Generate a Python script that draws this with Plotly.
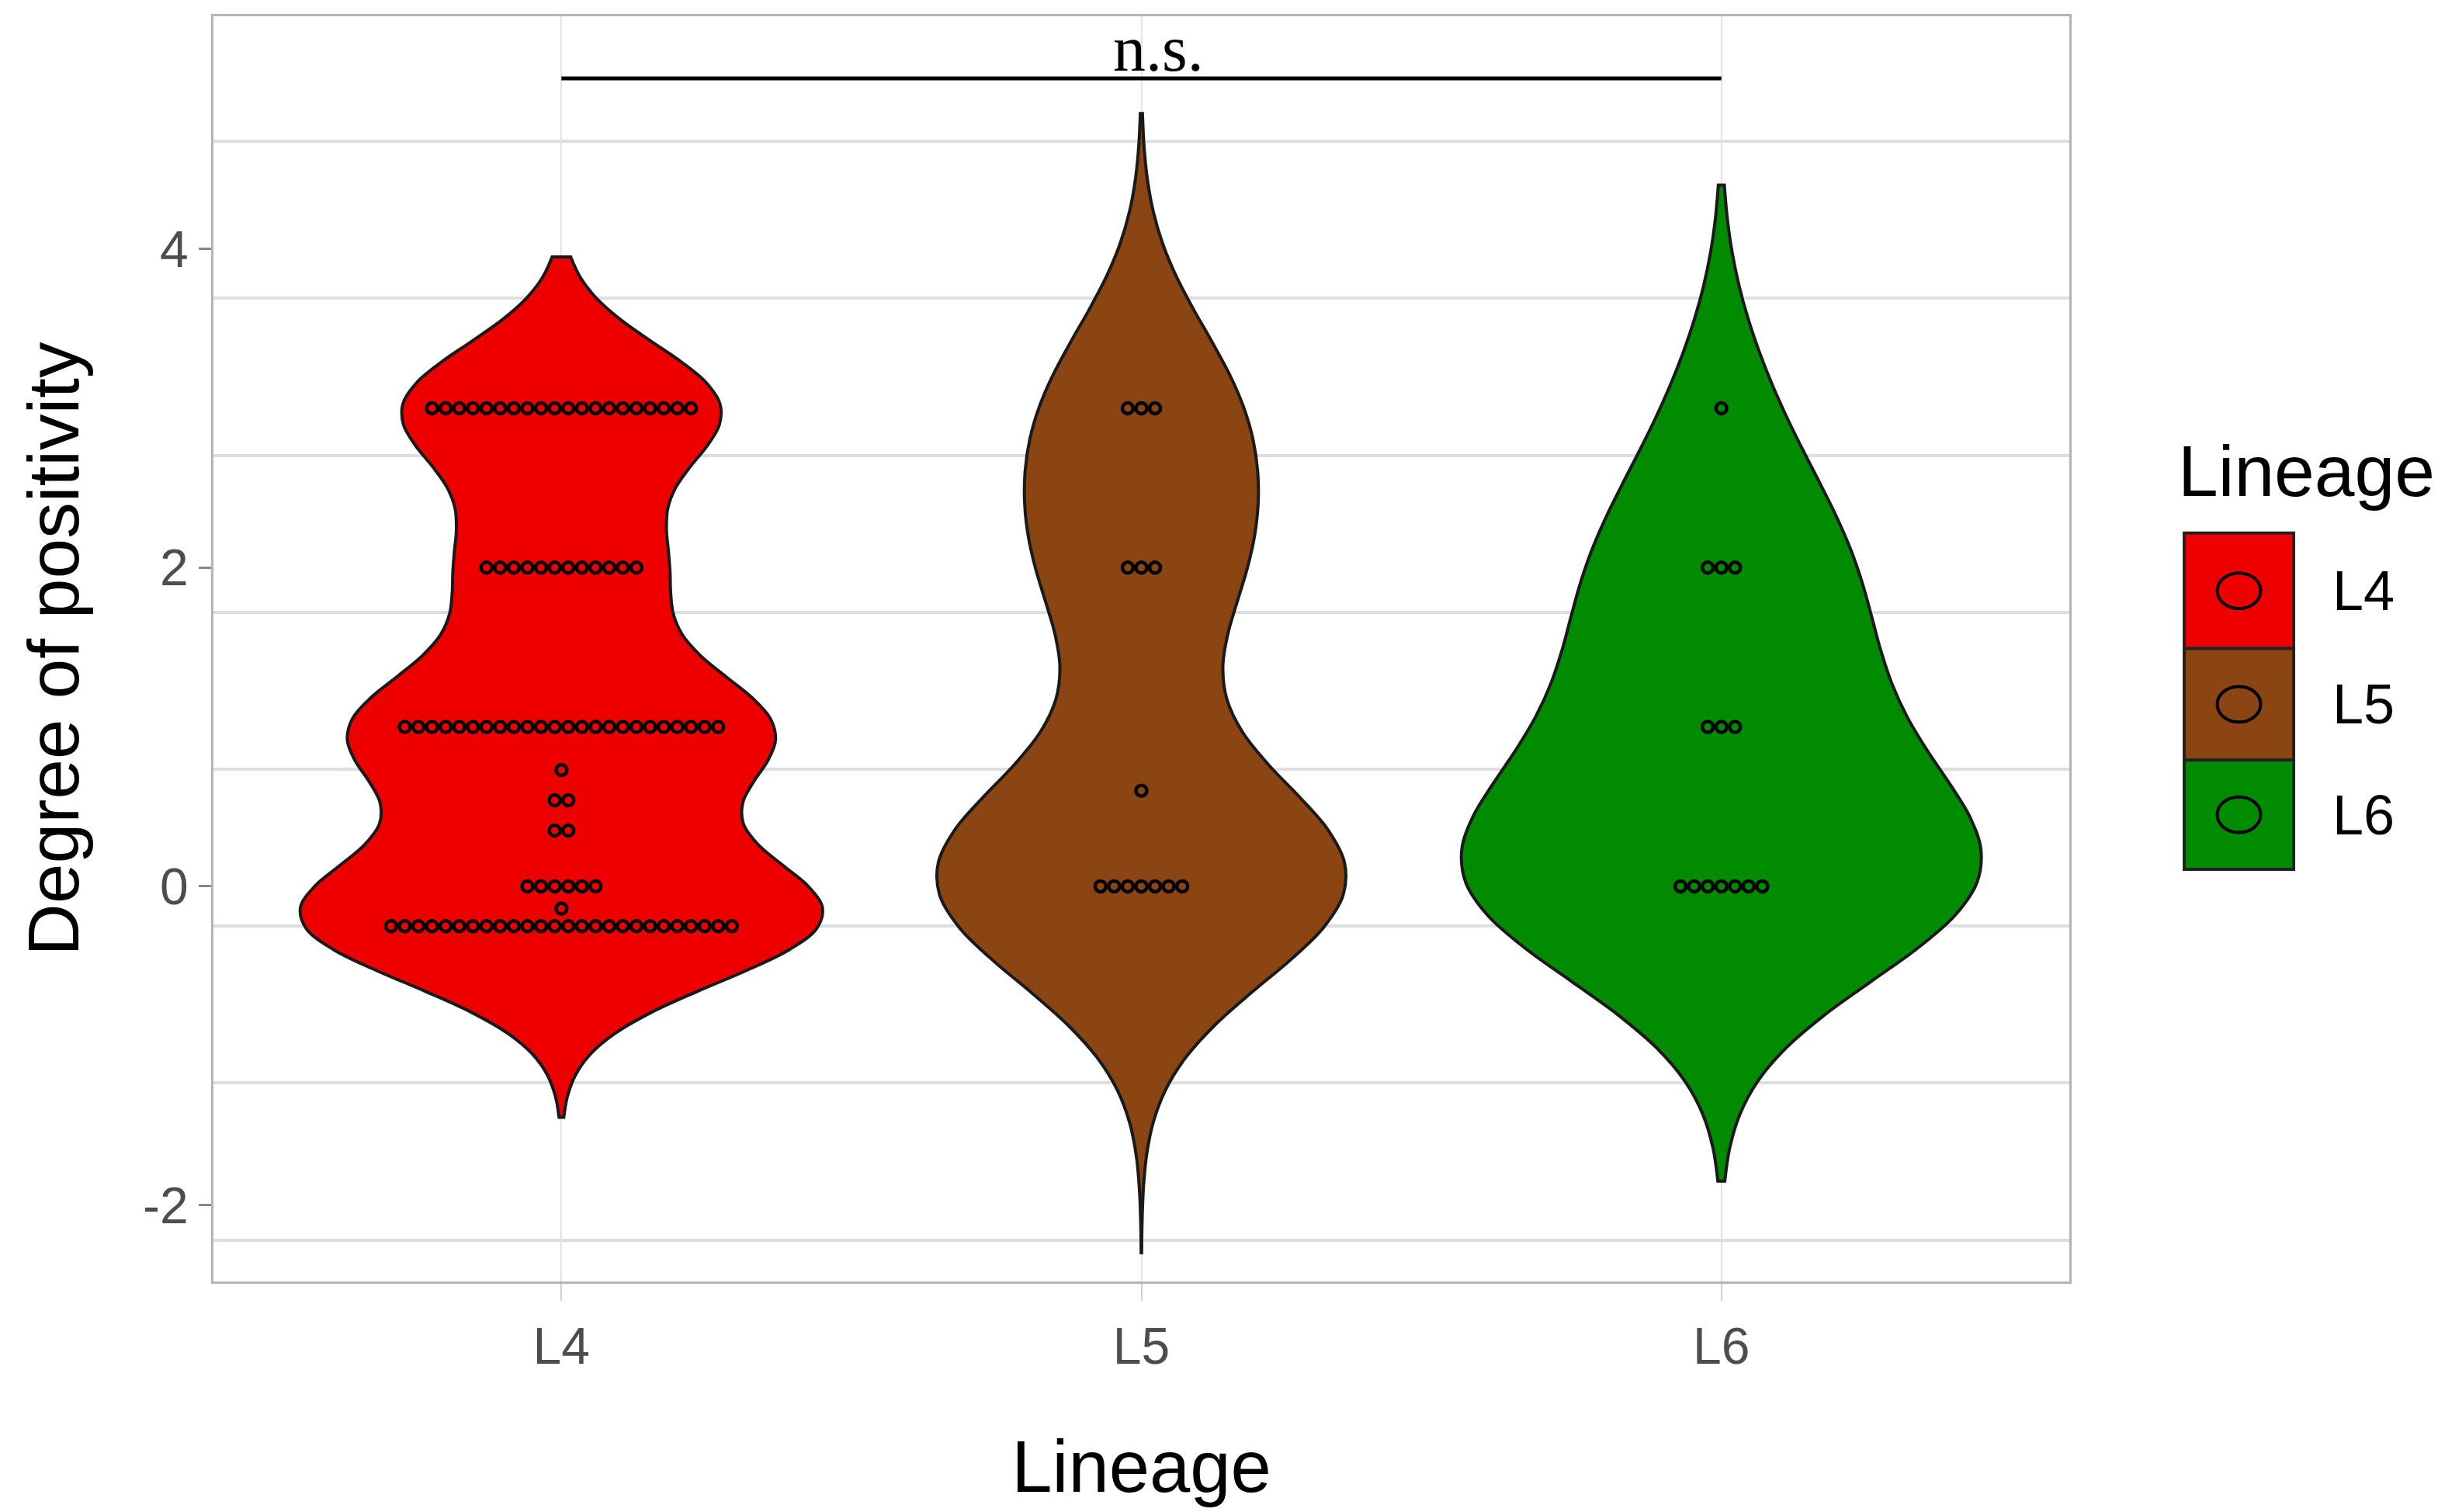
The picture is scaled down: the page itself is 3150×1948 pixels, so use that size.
import numpy as np
import plotly.graph_objects as go

# lineages and colours
lineages = ["L4", "L5", "L6"]
fill_colors = ["#ee0000", "#8b4513", "#008b00"]

# degree of positivity (value level, dots in row)
l4_levels = [3, 2, 1, 0.73, 0.54, 0.35, 0, -0.14, -0.25]
l4_counts = [20, 12, 24, 1, 2, 2, 6, 1, 26]
l5_levels = [3, 2, 0.6, 0]
l5_counts = [3, 3, 1, 7]
l6_levels = [3, 2, 1, 0]
l6_counts = [1, 3, 3, 7]

# violin extents (tails) and kernel bandwidths
violin_spans = [[-1.45, 3.95], [-2.3, 4.85], [-1.85, 4.4]]
violin_bw = [0.4, 0.63, 0.64]
violin_widths = [0.9, 0.7, 0.895]

y_ticks = [-2, 0, 2, 4]
y_tick_text = ["-2", "0", "2", "4"]
# background grid lines in the source do not sit on the tick values
grid_lines = [-2.22, -1.235, -0.25, 0.735, 1.72, 2.705, 3.69, 4.675]

bracket_y = 5.07
bracket_label = "n.s."

W, H = 3150, 1948
L, R, T, B = 267, 492, 10, 305
PW, PH = W - L - R, H - T - B


def px(x):
    return (x - L) / PW


def py(y):
    return (H - B - y) / PH


levels = [l4_levels, l5_levels, l6_levels]
counts = [l4_counts, l5_counts, l6_counts]

fig = go.Figure()

for i, name in enumerate(lineages):
    vals = np.repeat(levels[i], counts[i])
    fig.add_trace(go.Violin(
        y=vals, x0=i, name=name, points=False, box_visible=False,
        meanline_visible=False, fillcolor=fill_colors[i], opacity=1,
        line=dict(color="#1a1a1a", width=4), bandwidth=violin_bw[i],
        spanmode="manual", span=violin_spans[i], scalemode="width",
        width=violin_widths[i], showlegend=False, hoverinfo="skip",
    ))

# centred dot rows
dot_step = 0.0235
for i, name in enumerate(lineages):
    xs, ys = [], []
    for lev, n in zip(levels[i], counts[i]):
        for k in range(n):
            xs.append(i + (k - (n - 1) / 2) * dot_step)
            ys.append(lev)
    fig.add_trace(go.Scatter(
        x=xs, y=ys, mode="markers", showlegend=False, hoverinfo="skip",
        marker=dict(symbol="circle-open", size=14, color="black",
                    line=dict(width=4.5, color="black")),
    ))

# significance bracket
fig.add_trace(go.Scatter(
    x=[0, 2], y=[bracket_y, bracket_y], mode="lines", showlegend=False,
    line=dict(color="black", width=5), hoverinfo="skip",
))
fig.add_annotation(x=1.03, y=bracket_y, text=bracket_label, showarrow=False,
                   yanchor="bottom", yshift=-10,
                   font=dict(family="Liberation Serif", size=84, color="black"))

# hand-made legend (filled keys with hollow circle)
key_x0, key_x1 = 2806, 2947
key_edges = [677, 826, 970, 1111]
fig.add_annotation(x=px(2796), y=py(597), xref="paper", yref="paper",
                   text="Lineage", showarrow=False, xanchor="left",
                   font=dict(size=93, color="black"))
for i, name in enumerate(lineages):
    y0, y1 = key_edges[i], key_edges[i + 1]
    fig.add_shape(type="rect", xref="paper", yref="paper",
                  x0=px(key_x0), x1=px(key_x1), y0=py(y1), y1=py(y0),
                  fillcolor=fill_colors[i], line=dict(color="#222222", width=4))
    cx, cy = (key_x0 + key_x1) / 2, (y0 + y1) / 2
    fig.add_shape(type="circle", xref="paper", yref="paper",
                  x0=px(cx - 28), x1=px(cx + 28), y0=py(cy + 23), y1=py(cy - 23),
                  line=dict(color="black", width=4))
    fig.add_annotation(x=px(2995), y=py(cy), xref="paper", yref="paper",
                       text=name, showarrow=False, xanchor="left",
                       font=dict(size=72, color="black"))

fig.update_layout(
    width=W, height=H, margin=dict(l=L, r=R, t=T, b=B),
    paper_bgcolor="white", plot_bgcolor="white",
    font=dict(family="Liberation Sans", color="black"),
    violinmode="overlay", violingap=0,
)
fig.update_xaxes(
    range=[-0.6, 2.6], tickvals=[0, 1, 2], ticktext=lineages,
    showgrid=True, gridcolor="#e3e3e3", gridwidth=2, zeroline=False,
    ticks="outside", ticklen=22, tickcolor="#d0d0d0", tickwidth=2,
    tickfont=dict(size=66, color="#4d4d4d"), ticklabelstandoff=2,
    showline=True, mirror=True, linecolor="#b5b5b5", linewidth=3,
    title=dict(text="Lineage", font=dict(size=94, color="black"), standoff=86),
)
fig.update_yaxes(
    range=[-2.48, 5.46], tickvals=y_ticks, ticktext=y_tick_text,
    showgrid=False, zeroline=False,
    ticks="outside", ticklen=16, tickcolor="#888888", tickwidth=3,
    tickfont=dict(size=66, color="#4d4d4d"),
    minor=dict(tickmode="array", tickvals=grid_lines, showgrid=True,
               gridcolor="#dedede", gridwidth=4, ticks=""),
    showline=True, mirror=True, linecolor="#b5b5b5", linewidth=3,
    title=dict(text="Degree of positivity", font=dict(size=93, color="black"),
               standoff=52),
)

fig.write_html("out.html")
